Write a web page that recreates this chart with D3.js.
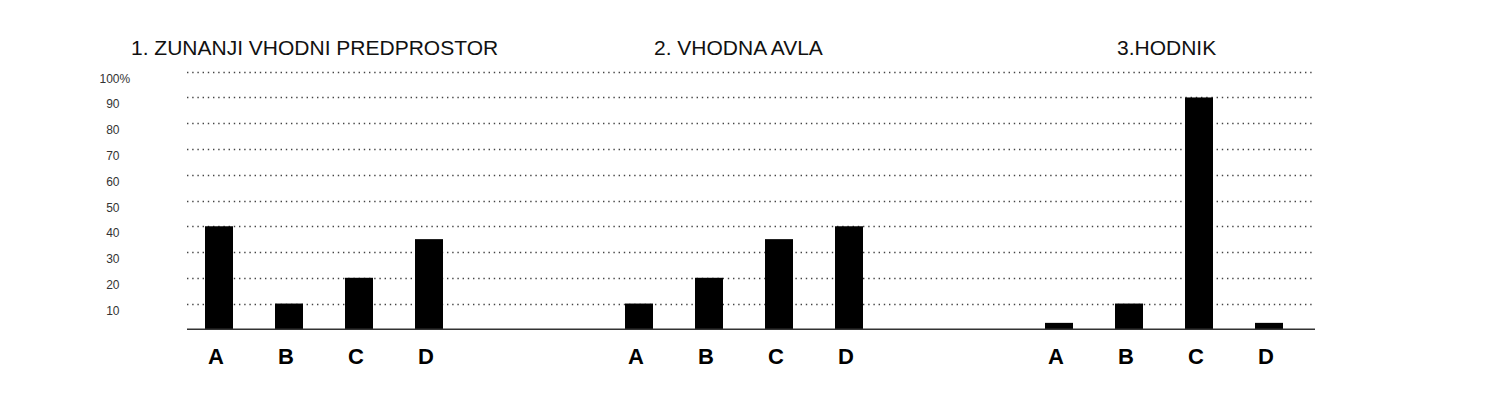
<!DOCTYPE html>
<html>
<head>
<meta charset="utf-8">
<script src="https://cdn.jsdelivr.net/npm/d3@7"></script>
<style>
  html, body { margin: 0; padding: 0; background: #fff; }
  svg { display: block; font-family: "Liberation Sans", Arial, Helvetica, sans-serif; }
</style>
</head>
<body>
<svg id="chart" width="1500" height="404"></svg>
<script>
// ---- data ----
const groups = ["1. ZUNANJI VHODNI PREDPROSTOR", "2. VHODNA AVLA", "3.HODNIK"];
const categories = ["A", "B", "C", "D"];
const valuesGroup1 = [40, 10, 20, 35];
const valuesGroup2 = [10, 20, 35, 40];
const valuesGroup3 = [2.5, 10, 90, 2.5];
const yTicks = [10, 20, 30, 40, 50, 60, 70, 80, 90, 100];

const seriesByGroup = [valuesGroup1, valuesGroup2, valuesGroup3];

// ---- layout ----
const svg = d3.select("#chart");
const plotLeft = 187, plotRight = 1315;
const y = d3.scaleLinear().domain([0, 100]).range([329.3, 71.7]);

const outer = d3.scaleBand().domain(groups).range([114, 1374]).padding(0);
const inner = d3.scaleBand().domain(categories)
  .range([-outer.bandwidth() / 3, outer.bandwidth() / 3])
  .paddingInner(0.6).paddingOuter(0.3);

// gridlines
svg.append("g").selectAll("line").data(yTicks).join("line")
  .attr("x1", plotLeft).attr("x2", plotRight)
  .attr("y1", d => Math.round(y(d)) + 0.5).attr("y2", d => Math.round(y(d)) + 0.5)
  .attr("stroke", "#444").attr("stroke-width", 1.4)
  .attr("stroke-dasharray", "1.4,3.8");

// y labels
const yl = svg.append("g").attr("font-size", 12).attr("fill", "#333");
yl.selectAll("text").data(yTicks).join("text")
  .attr("x", 119.5).attr("y", d => y(d) + 11)
  .attr("text-anchor", "end")
  .text(d => d);
yl.append("text").attr("x", 119.5).attr("y", y(100) + 11)
  .attr("text-anchor", "start").text("%");

// bars
groups.forEach((g, gi) => {
  const cx = outer(g) + outer.bandwidth() / 2;
  const data = categories.map((c, i) => ({ c, v: seriesByGroup[gi][i] }));
  const gg = svg.append("g").attr("transform", `translate(${cx},0)`);
  gg.selectAll("rect").data(data).join("rect")
    .attr("x", d => inner(d.c))
    .attr("width", inner.bandwidth())
    .attr("y", d => y(d.v))
    .attr("height", d => y(0) - y(d.v))
    .attr("fill", "#000");
  gg.selectAll("text.cat").data(data).join("text")
    .attr("class", "cat")
    .attr("x", d => inner(d.c) + inner.bandwidth() / 2 - 3)
    .attr("y", 364)
    .attr("text-anchor", "middle")
    .attr("font-size", 22).attr("font-weight", "bold").attr("fill", "#000")
    .text(d => d.c);
});

// baseline
svg.append("line")
  .attr("x1", plotLeft).attr("x2", plotRight)
  .attr("y1", y(0)).attr("y2", y(0))
  .attr("stroke", "#333").attr("stroke-width", 1.5);

// titles
const titleX = [131, 654, 1117];
svg.append("g").selectAll("text").data(groups).join("text")
  .attr("x", (d, i) => titleX[i]).attr("y", 55)
  .attr("font-size", 21).attr("fill", "#111")
  .text(d => d);
</script>
</body>
</html>
